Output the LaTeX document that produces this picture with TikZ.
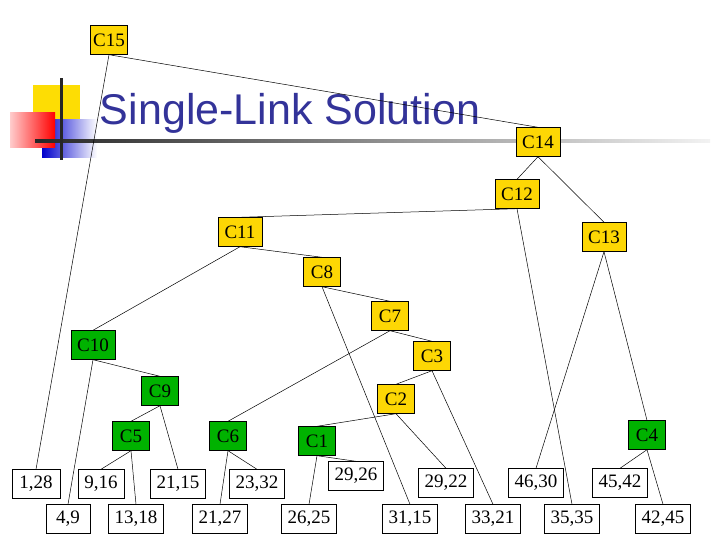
\documentclass[tikz,border=0pt]{standalone}
\usepackage{fontspec}
\setmainfont{Liberation Serif}
\newfontfamily\titlefont{Liberation Sans}
\definecolor{titleblue}{RGB}{51,51,153}
\begin{document}
\begin{tikzpicture}[x=1pt,y=-1pt,
  box/.style={draw=black,inner sep=0pt,minimum height=29pt,minimum width=37pt,font=\fontsize{19}{19}\selectfont},
  yel/.style={box,fill=yellow!75!orange},
  grn/.style={box,fill=green!70!black},
  leaf/.style={box,fill=white,minimum width=55pt},
  e/.style={draw=black,line width=0.5pt}]
\useasboundingbox (0,0) rectangle (720,540);
% logo
\fill[yellow!80!orange] (33,85) rectangle (80,130);
\shade[left color=blue!80!black,right color=white] (42,120) rectangle (97,158);
\shade[left color=red!20,right color=red] (10,113) rectangle (55,148);
\shade[left color=black!85,right color=black!5] (35,140) rectangle (710,143);
\fill[black!85] (60,78) rectangle (63,160);
\node[text=titleblue,font=\titlefont\fontsize{43}{43}\selectfont] (title) at (290,113) {Single-Link Solution};
% nodes
\node[yel] (c15) at (109,40) {C15};
\node[yel,minimum width=44pt] (c14) at (538,142) {C14};
\node[yel,minimum width=44pt] (c12) at (517,194) {C12};
\node[yel,minimum width=44pt] (c11) at (240,232) {C11};
\node[yel,minimum width=44pt] (c13) at (604,237) {C13};
\node[yel] (c8) at (322,272) {C8};
\node[yel] (c7) at (390,316) {C7};
\node[grn,minimum width=44pt] (c10) at (93,345) {C10};
\node[yel] (c3) at (432,356) {C3};
\node[grn] (c9) at (160,391) {C9};
\node[yel] (c2) at (396,399) {C2};
\node[grn] (c5) at (131,436) {C5};
\node[grn] (c6) at (228,436) {C6};
\node[grn] (c1) at (317,441) {C1};
\node[grn] (c4) at (647,435) {C4};
\node[leaf,minimum width=48pt] (l128) at (36,484) {1,28};
\node[leaf,minimum width=46pt] (l916) at (101,484) {9,16};
\node[leaf] (l2115) at (178,484) {21,15};
\node[leaf] (l2332) at (257,484) {23,32};
\node[leaf] (l2926) at (356,476) {29,26};
\node[leaf] (l2922) at (446,483) {29,22};
\node[leaf] (l4630) at (536,483) {46,30};
\node[leaf] (l4542) at (620,483) {45,42};
\node[leaf,minimum width=44pt] (l49) at (68,519) {4,9};
\node[leaf] (l1318) at (136,519) {13,18};
\node[leaf] (l2127) at (220,519) {21,27};
\node[leaf] (l2625) at (309,519) {26,25};
\node[leaf] (l3115) at (410,519) {31,15};
\node[leaf] (l3321) at (493,519) {33,21};
\node[leaf] (l3535) at (572,519) {35,35};
\node[leaf] (l4245) at (663,519) {42,45};
% edges
\foreach \a/\b in {c15/c14,c15/l128,c14/c12,c14/c13,c12/c11,c12/l3535,c13/l4630,c13/c4,
  c11/c10,c11/c8,c8/l3115,c8/c7,c7/c6,c7/c3,c3/c2,c3/l3321,c2/c1,c2/l2922,c1/l2625,c1/l2926,
  c10/c9,c10/l49,c9/c5,c9/l2115,c5/l916,c5/l1318,c6/l2127,c6/l2332,c4/l4542,c4/l4245}
  \draw[e] (\a.south) -- (\b.north);
\end{tikzpicture}
\end{document}
